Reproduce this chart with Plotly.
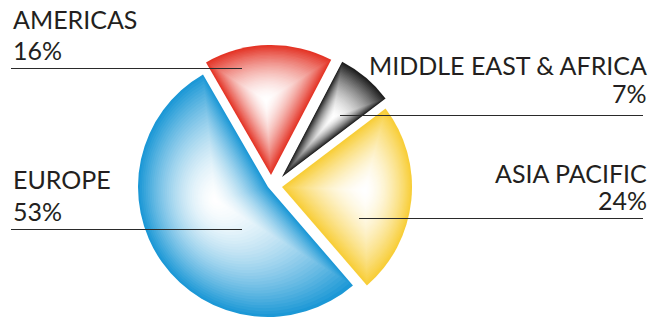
import plotly.graph_objects as go

# ---- data ----
regions = ["AMERICAS", "MIDDLE EAST & AFRICA", "ASIA PACIFIC", "EUROPE"]
shares = [16, 7, 24, 53]
pct_labels = ["16%", "7%", "24%", "53%"]
edge_colors = [(228, 52, 38), (30, 30, 30), (248, 206, 56), (28, 152, 214)]

# ---- layout geometry (pixels) ----
W, H = 666, 322
R = 130
apex = [(271, 175), (282, 177), (282, 187), (268, 187)]   # exploded slice apexes
glow = [(266, 100), (333, 117), (365, 190), (215, 200)]   # highlight centres
N = 40

def mix(c, w):
    r, g, b = [round(255 * (1 - w) + v * w) for v in c]
    return f"rgb({r},{g},{b})"

fig = go.Figure()
for i in range(len(regions)):
    ax, ay = apex[i]
    gx, gy = glow[i]
    for k in range(N):
        t = 1 - k / N
        cx = gx + t * (ax - gx)
        cy = gy + t * (ay - gy)
        r = t * R
        w = t ** 1.7
        cols = ["rgba(0,0,0,0)"] * len(regions)
        cols[i] = mix(edge_colors[i], w)
        fig.add_trace(go.Pie(
            values=shares, labels=regions, sort=False, direction="clockwise",
            rotation=-30, marker=dict(colors=cols, line=dict(width=0)),
            textinfo="none", hoverinfo="skip", showlegend=False,
            domain=dict(x=[(cx - r) / W, (cx + r) / W],
                        y=[1 - (cy + r) / H, 1 - (cy - r) / H]),
        ))

TXT = "#231F20"
FONT = dict(family="Lato", size=25, color=TXT)

# label placements: (x, name baseline, pct baseline, anchor, line x0, x1, line y)
place = [
    (12, 28, 59, "left", 11, 242, 68),
    (648, 74, 102, "right", 340, 643, 115),
    (648, 182, 209, "right", 359, 643, 218),
    (12, 188, 220, "left", 11, 242, 229),
]

annotations = []
shapes = []
for i, (x, b1, b2, anc, lx0, lx1, ly) in enumerate(place):
    for txt, b in ((regions[i], b1), (pct_labels[i], b2)):
        annotations.append(dict(
            text=txt, x=x / W, y=1 - (b - 9) / H, xref="paper", yref="paper",
            xanchor=anc, yanchor="middle", showarrow=False, font=FONT,
            align=anc, borderpad=0))
    yy = 1 - (ly + 0.5) / H
    shapes.append(dict(type="line", xref="paper", yref="paper",
                       x0=lx0 / W, x1=lx1 / W, y0=yy, y1=yy,
                       line=dict(color="#2a2a2a", width=1)))

fig.update_layout(
    width=W, height=H, margin=dict(l=0, r=0, t=0, b=0),
    paper_bgcolor="white", plot_bgcolor="white", showlegend=False,
    annotations=annotations, shapes=shapes,
)

fig.write_html("out.html", config={"displayModeBar": False},
               post_script="document.body.style.margin='0px';")
